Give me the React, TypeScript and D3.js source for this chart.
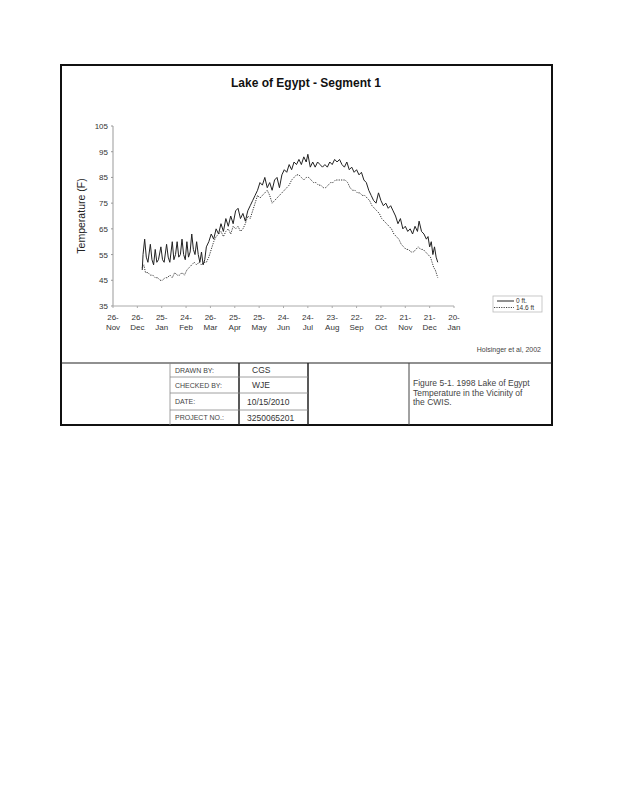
import * as d3 from 'd3';

// temperature readings, [day of 1998, deg F]
const surface: [number, number][] = [
  [1, 49], [2, 55], [4, 61], [6, 54], [8, 52], [11, 59], [13, 53], [15, 51], [17, 57], [19, 52],
  [21, 53], [24, 58], [26, 53], [28, 52], [31, 59], [33, 54], [35, 52], [38, 60], [40, 53], [42, 55],
  [44, 60], [46, 54], [48, 55], [50, 61], [52, 55], [54, 53], [56, 60], [58, 54], [60, 56], [62, 63],
  [64, 57], [66, 55], [68, 60], [70, 55], [72, 52], [74, 56], [76, 51], [78, 53], [80, 58],
  [83, 60], [86, 63], [89, 61], [92, 65], [95, 63], [98, 67], [101, 64], [104, 69], [107, 66], [110, 70],
  [113, 67], [116, 72], [119, 73], [122, 69], [125, 71], [128, 68], [131, 72], [134, 74], [137, 76], [140, 78],
  [143, 80], [146, 83], [149, 82], [152, 85], [155, 81], [158, 83], [161, 80], [164, 84], [167, 85], [170, 81],
  [173, 86], [176, 88], [179, 87], [182, 90], [185, 88], [188, 91], [191, 90], [194, 92], [197, 90], [200, 93],
  [203, 91], [205, 94], [208, 89], [211, 91], [214, 89], [217, 91], [220, 90], [223, 89], [226, 90], [229, 89],
  [232, 91], [235, 90], [238, 92], [241, 91], [244, 92], [247, 90], [250, 89], [253, 91], [256, 88], [259, 89],
  [262, 87], [265, 88], [268, 86], [271, 87], [274, 84], [277, 83], [280, 80], [283, 78], [286, 76], [289, 75],
  [292, 79], [295, 76], [298, 74], [301, 75], [304, 73], [307, 74], [310, 72], [313, 70], [316, 67], [319, 69],
  [322, 65], [325, 66], [328, 64], [331, 65], [334, 63], [337, 66], [340, 64], [342, 68], [345, 64], [348, 63],
  [351, 61], [353, 62], [355, 58], [357, 60], [359, 55], [361, 58], [363, 54], [365, 52],
];

const deep: [number, number][] = [
  [1, 50], [3, 51], [5, 48], [8, 48], [11, 47], [14, 47], [17, 46], [20, 46], [23, 45], [26, 45],
  [29, 46], [32, 46], [35, 47], [38, 46], [41, 48], [44, 47], [47, 47], [50, 48], [53, 47], [56, 49],
  [59, 50], [62, 51], [65, 52], [68, 51], [71, 52], [74, 51], [77, 52], [80, 52], [83, 54], [86, 57],
  [89, 60], [92, 62], [95, 63], [98, 64], [101, 62], [104, 64], [107, 65], [110, 63], [113, 66], [116, 65],
  [119, 66], [122, 64], [125, 65], [128, 67], [131, 70], [134, 69], [137, 72], [140, 75], [143, 78], [146, 77],
  [149, 78], [152, 79], [155, 80], [158, 78], [161, 75], [164, 76], [167, 77], [170, 78], [173, 79], [176, 80],
  [179, 81], [182, 82], [185, 84], [188, 85], [191, 86], [194, 86], [197, 85], [200, 84], [203, 85], [206, 85],
  [209, 84], [212, 83], [215, 83], [218, 82], [221, 82], [224, 81], [227, 81], [230, 82], [233, 83], [236, 83],
  [239, 84], [242, 84], [245, 84], [248, 84], [251, 84], [254, 83], [257, 81], [260, 80], [263, 80], [266, 79],
  [269, 79], [272, 78], [275, 78], [278, 77], [281, 76], [284, 74], [287, 73], [290, 72], [293, 71], [296, 69],
  [299, 68], [302, 67], [305, 66], [308, 65], [311, 63], [314, 62], [317, 61], [320, 59], [323, 58], [326, 57],
  [329, 57], [332, 56], [335, 56], [338, 57], [341, 58], [344, 57], [347, 57], [350, 56], [353, 55], [356, 54],
  [358, 52], [360, 50], [362, 49], [364, 47], [365, 46],
];

const seriesNames = ['0 ft.', '14.6 ft'];
const yTicks = [35, 45, 55, 65, 75, 85, 95, 105];
const xTickLabels = [
  '26-Nov', '26-Dec', '25-Jan', '24-Feb', '26-Mar', '25-Apr', '25-May', '24-Jun',
  '24-Jul', '23-Aug', '22-Sep', '22-Oct', '21-Nov', '21-Dec', '20-Jan',
];
const tableLabels = ['DRAWN BY:', 'CHECKED BY:', 'DATE:', 'PROJECT NO.:'];
const tableValues = ['CGS', 'WJE', '10/15/2010', '3250065201'];
const captionLines = ['Figure 5-1.  1998 Lake of Egypt', 'Temperature in the Vicinity of', 'the CWIS.'];

const FONT = 'Liberation Sans, Arial, sans-serif';
const DAY = 864e5;

export default function App() {
  const start = Date.UTC(1997, 10, 26);
  const x = d3.scaleUtc().domain([new Date(start), new Date(start + 420 * DAY)]).range([113, 454]);
  const y = d3.scaleLinear().domain([35, 105]).range([306, 126]);
  const tickDates = xTickLabels.map((_, i) => new Date(start + i * 30 * DAY));

  const line = d3
    .line<[number, number]>()
    .x((d) => x(new Date(Date.UTC(1998, 0, d[0]))))
    .y((d) => y(d[1]));

  const rowY = [363, 377, 393, 410, 425];

  return (
    <svg
      width={618}
      height={800}
      style={{ position: 'absolute', left: 0, top: 0, background: '#fff' }}
      fontFamily={FONT}
    >
      <rect x={0} y={0} width={618} height={800} fill="#fff" />
      {/* outer frame */}
      <rect x={61} y={65} width={491} height={360} fill="none" stroke="#111" strokeWidth={2} />

      <text x={306} y={87} textAnchor="middle" fontSize={12} fontWeight="bold" fill="#111">
        Lake of Egypt - Segment 1
      </text>

      {/* y axis */}
      <line x1={113} x2={113} y1={y(105)} y2={y(35)} stroke="#999" />
      {yTicks.map((t) => (
        <g key={t}>
          <line x1={111} x2={113} y1={y(t)} y2={y(t)} stroke="#999" />
          <text x={108} y={y(t) + 3} textAnchor="end" fontSize={8} fill="#333">
            {t}
          </text>
        </g>
      ))}
      <text
        transform={`translate(85,${(y(35) + y(105)) / 2}) rotate(-90)`}
        textAnchor="middle"
        fontSize={10.5}
        fill="#222"
      >
        Temperature (F)
      </text>

      {/* x axis */}
      <line x1={113} x2={454} y1={y(35)} y2={y(35)} stroke="#aaa" />
      {tickDates.map((d, i) => {
        const [a, b] = xTickLabels[i].split('-');
        return (
          <g key={i}>
            <line x1={x(d)} x2={x(d)} y1={y(35)} y2={y(35) + 2} stroke="#aaa" />
            <text x={x(d)} y={320} textAnchor="middle" fontSize={8} fill="#333">
              {a}-
            </text>
            <text x={x(d)} y={330} textAnchor="middle" fontSize={8} fill="#333">
              {b}
            </text>
          </g>
        );
      })}

      {/* series */}
      <path d={line(deep) ?? ''} fill="none" stroke="#333" strokeWidth={1} strokeDasharray="1.2,1.2" />
      <path d={line(surface) ?? ''} fill="none" stroke="#222" strokeWidth={1} />

      {/* legend */}
      <rect x={493} y={296} width={49} height={16} fill="#fff" stroke="#bbb" strokeWidth={0.8} />
      <line x1={497} x2={514} y1={301} y2={301} stroke="#222" />
      <text x={516} y={303} fontSize={6.5} fill="#333">
        {seriesNames[0]}
      </text>
      <line x1={494} x2={514} y1={307.5} y2={307.5} stroke="#444" strokeDasharray="1.2,1.2" />
      <text x={516} y={310} fontSize={6.5} fill="#333">
        {seriesNames[1]}
      </text>

      <text x={541} y={352} textAnchor="end" fontSize={7} fill="#444">
        Holsinger et al, 2002
      </text>

      {/* title block */}
      <line x1={61} x2={552} y1={363} y2={363} stroke="#222" strokeWidth={1.2} />
      <line x1={170} x2={170} y1={363} y2={425} stroke="#888" strokeWidth={0.8} />
      <line x1={239} x2={239} y1={363} y2={425} stroke="#222" strokeWidth={1.5} />
      <line x1={308} x2={308} y1={363} y2={425} stroke="#222" strokeWidth={1.5} />
      <line x1={409} x2={409} y1={363} y2={425} stroke="#444" strokeWidth={1} />
      {rowY.slice(1, 4).map((ry) => (
        <line key={ry} x1={170} x2={308} y1={ry} y2={ry} stroke="#888" strokeWidth={0.8} />
      ))}
      {tableLabels.map((l, i) => (
        <text key={l} x={175} y={(rowY[i] + rowY[i + 1]) / 2 + 2.5} fontSize={7} fill="#444">
          {l}
        </text>
      ))}
      {tableValues.map((v, i) => (
        <text key={v} x={i < 2 ? 252 : 247} y={(rowY[i] + rowY[i + 1]) / 2 + 3} fontSize={8.5} fill="#333">
          {v}
        </text>
      ))}
      {captionLines.map((c, i) => (
        <text key={c} x={413} y={386 + i * 9.5} fontSize={8.5} fill="#444">
          {c}
        </text>
      ))}
    </svg>
  );
}
